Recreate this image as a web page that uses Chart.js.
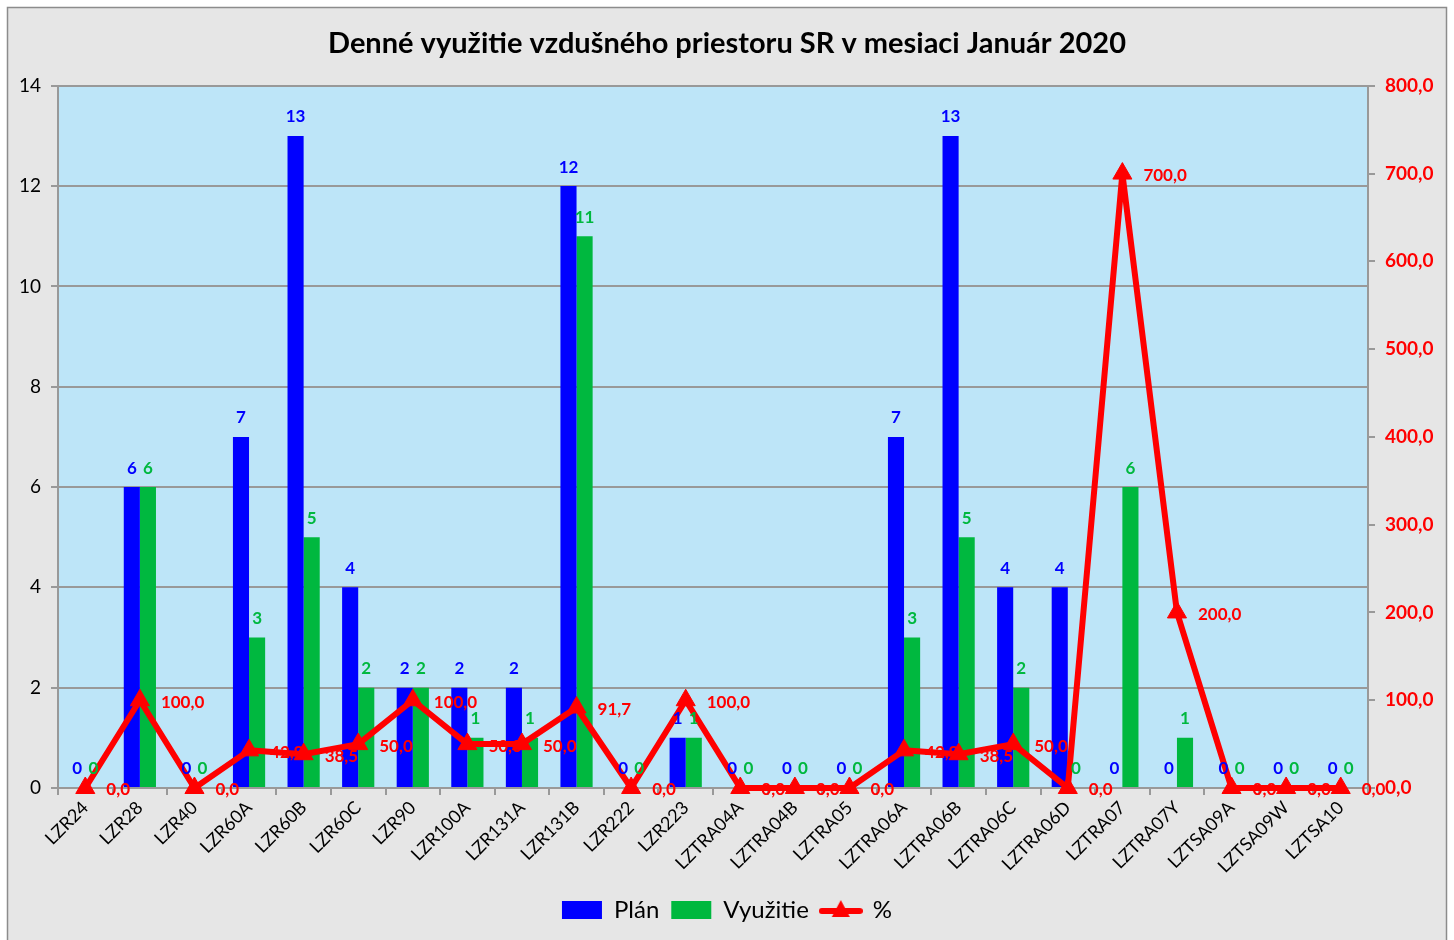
<!DOCTYPE html>
<html>
<head>
<meta charset="utf-8">
<script src="https://cdn.jsdelivr.net/npm/chart.js@4.4.1/dist/chart.umd.min.js"></script>
<style>
    html, body { margin: 0; padding: 0; background: #fff; }
    #wrap { width: 1454px; height: 940px; }
</style>
</head>
<body>
<div id="wrap"><canvas id="chart" width="1454" height="940"></canvas></div>
<script>
// Data
const categories = [
    'LZR24', 'LZR28', 'LZR40', 'LZR60A', 'LZR60B', 'LZR60C', 'LZR90', 'LZR100A',
    'LZR131A', 'LZR131B', 'LZR222', 'LZR223', 'LZTRA04A', 'LZTRA04B', 'LZTRA05',
    'LZTRA06A', 'LZTRA06B', 'LZTRA06C', 'LZTRA06D', 'LZTRA07', 'LZTRA07Y',
    'LZTSA09A', 'LZTSA09W', 'LZTSA10'
];
const planValues = [0, 6, 0, 7, 13, 4, 2, 2, 2, 12, 0, 1, 0, 0, 0, 7, 13, 4, 4, 0, 0, 0, 0, 0];
const usageValues = [0, 6, 0, 3, 5, 2, 2, 1, 1, 11, 0, 1, 0, 0, 0, 3, 5, 2, 0, 6, 1, 0, 0, 0];
const percentValues = [0, 100, 0, 42.9, 38.5, 50, 100, 50, 50, 91.7, 0, 100, 0, 0, 0, 42.9, 38.5, 50, 0, 700, 200, 0, 0, 0];
const leftAxisMax = 14;
const leftAxisStep = 2;
const rightAxisMax = 800;
const rightAxisStep = 100;

const BLUE = '#0000ff';
const GREEN = '#00b83f';
const RED = '#ff0000';
const GRID = '#999999';
const FONT = 'Lato, "Open Sans", sans-serif';

const fmt = v => v.toFixed(1).replace('.', ',');

// Legend icon for the % line (line with a triangle)
function lineLegendIcon() {
    const c = document.createElement('canvas');
    c.width = 44;
    c.height = 22;
    const g = c.getContext('2d');
    g.strokeStyle = RED;
    g.lineWidth = 6;
    g.lineCap = 'round';
    g.beginPath();
    g.moveTo(3, 12);
    g.lineTo(41, 12);
    g.stroke();
    g.fillStyle = RED;
    g.beginPath();
    g.moveTo(22, 1);
    g.lineTo(31, 18);
    g.lineTo(13, 18);
    g.closePath();
    g.fill();
    return c;
}
const lineIcon = lineLegendIcon();

// Background: grey frame + light blue plot area
const background = {
    id: 'background',
    beforeDraw(chart) {
        const { ctx, chartArea } = chart;
        ctx.save();
        ctx.fillStyle = '#ffffff';
        ctx.fillRect(0, 0, chart.width, chart.height);
        ctx.fillStyle = '#e6e6e6';
        ctx.fillRect(8, 8, 1438, 940);
        ctx.strokeStyle = '#8c8c8c';
        ctx.lineWidth = 1.5;
        ctx.strokeRect(7.5, 7.5, 1439, 940);
        ctx.fillStyle = '#bde5f8';
        ctx.fillRect(chartArea.left, chartArea.top, chartArea.width, chartArea.height);
        ctx.restore();
    }
};

// Value labels above bars / right of line points
const valueLabels = {
    id: 'valueLabels',
    afterDatasetsDraw(chart) {
        const ctx = chart.ctx;
        ctx.save();
        ctx.font = 'bold 17px ' + FONT;
        chart.data.datasets.forEach((ds, i) => {
            const meta = chart.getDatasetMeta(i);
            meta.data.forEach((el, j) => {
                const v = ds.data[j];
                if (ds.type === 'line') {
                    ctx.fillStyle = RED;
                    ctx.textAlign = 'left';
                    ctx.textBaseline = 'middle';
                    ctx.fillText(fmt(v), el.x + 21, el.y + 2);
                } else {
                    ctx.fillStyle = ds.backgroundColor;
                    ctx.textAlign = 'center';
                    ctx.textBaseline = 'middle';
                    ctx.fillText(String(v), el.x, el.y - 19);
                }
            });
        });
        ctx.restore();
    }
};

const ctx = document.getElementById('chart').getContext('2d');
new Chart(ctx, {
    data: {
        labels: categories,
        datasets: [
            {
                type: 'bar',
                label: 'Plán',
                data: planValues,
                backgroundColor: BLUE,
                yAxisID: 'y',
                order: 1,
                barPercentage: 1.0,
                categoryPercentage: 0.59
            },
            {
                type: 'bar',
                label: 'Využitie',
                data: usageValues,
                backgroundColor: GREEN,
                yAxisID: 'y',
                order: 1,
                barPercentage: 1.0,
                categoryPercentage: 0.59
            },
            {
                type: 'line',
                label: '%',
                data: percentValues,
                borderColor: RED,
                backgroundColor: RED,
                borderWidth: 6,
                borderJoinStyle: 'round',
                pointStyle: 'triangle',
                pointRadius: 11,
                pointBackgroundColor: RED,
                pointBorderColor: RED,
                pointBorderWidth: 1,
                yAxisID: 'y1',
                order: 0,
                clip: false
            }
        ]
    },
    options: {
        responsive: false,
        animation: false,
        layout: {
            padding: { top: 0, bottom: 8, left: 0, right: 0 }
        },
        scales: {
            x: {
                afterFit: scale => { scale.height = 98; },
                grid: {
                    offset: true,
                    drawOnChartArea: false,
                    drawTicks: true,
                    tickLength: 7,
                    color: GRID,
                    lineWidth: 2
                },
                border: { color: GRID, width: 2 },
                ticks: {
                    color: '#000',
                    minRotation: 45,
                    maxRotation: 45,
                    autoSkip: false,
                    padding: 2,
                    font: { family: FONT, size: 18 }
                }
            },
            y: {
                position: 'left',
                min: 0,
                max: leftAxisMax,
                afterFit: scale => { scale.width = 58; },
                grid: {
                    color: GRID,
                    lineWidth: 2,
                    drawTicks: true,
                    tickLength: 7
                },
                border: { color: GRID, width: 2 },
                ticks: {
                    stepSize: leftAxisStep,
                    color: '#000',
                    padding: 10,
                    font: { family: FONT, size: 19 }
                }
            },
            y1: {
                position: 'right',
                min: 0,
                max: rightAxisMax,
                afterFit: scale => { scale.width = 86; },
                grid: {
                    drawOnChartArea: false,
                    drawTicks: true,
                    tickLength: 7,
                    color: GRID,
                    lineWidth: 2
                },
                border: { color: GRID, width: 2 },
                ticks: {
                    stepSize: rightAxisStep,
                    color: RED,
                    padding: 10,
                    font: { family: FONT, size: 19, weight: 'bold' },
                    callback: v => fmt(v)
                }
            }
        },
        plugins: {
            title: {
                display: true,
                text: 'Denné využitie vzdušného priestoru SR v mesiaci Január 2020',
                color: '#000',
                font: { family: FONT, size: 29, weight: 'bold' },
                padding: { top: 26, bottom: 25 }
            },
            legend: {
                display: true,
                position: 'bottom',
                labels: {
                    usePointStyle: true,
                    pointStyleWidth: 40,
                    boxHeight: 18,
                    padding: 12,
                    color: '#000',
                    font: { family: FONT, size: 24 },
                    sort: (a, b) => a.datasetIndex - b.datasetIndex,
                    generateLabels: chart => {
                        const items = Chart.defaults.plugins.legend.labels.generateLabels(chart);
                        items.forEach(it => {
                            it.pointStyle = it.datasetIndex === 2 ? lineIcon : 'rect';
                            it.lineWidth = 0;
                        });
                        return items;
                    }
                }
            },
            tooltip: { enabled: false }
        }
    },
    plugins: [background, valueLabels]
});
</script>
</body>
</html>
